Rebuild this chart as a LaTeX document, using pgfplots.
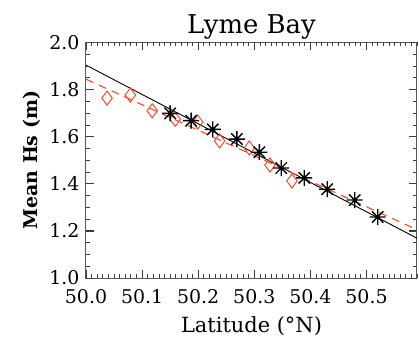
\documentclass[border=0pt]{standalone}
\usepackage{pgfplots}
\pgfplotsset{compat=1.18}
\usetikzlibrary{calc}
\usepackage{fontspec}
\setmainfont{DejaVu Serif}
\definecolor{idlred}{RGB}{245,75,45}
\pgfdeclareplotmark{star8}{%
  \pgfpathmoveto{\pgfpointpolar{0}{\pgfplotmarksize}}\pgfpathlineto{\pgfpointpolar{180}{\pgfplotmarksize}}%
  \pgfpathmoveto{\pgfpointpolar{90}{\pgfplotmarksize}}\pgfpathlineto{\pgfpointpolar{270}{\pgfplotmarksize}}%
  \pgfpathmoveto{\pgfpointpolar{45}{\pgfplotmarksize}}\pgfpathlineto{\pgfpointpolar{225}{\pgfplotmarksize}}%
  \pgfpathmoveto{\pgfpointpolar{135}{\pgfplotmarksize}}\pgfpathlineto{\pgfpointpolar{315}{\pgfplotmarksize}}%
  \pgfusepathqstroke}
\begin{document}
\begin{tikzpicture}
\path[use as bounding box] (-86bp,-63bp) rectangle (333bp,278bp);
\begin{axis}[
  scale only axis, width=331bp, height=235.5bp,
  xmin=50.0, xmax=50.59, ymin=1.0, ymax=2.0,
  clip=false,
  xtick={50.0,50.1,50.2,50.3,50.4,50.5},
  ytick={1.0,1.2,1.4,1.6,1.8,2.0},
  xticklabels={50.0,50.1,50.2,50.3,50.4,50.5},
  yticklabels={1.0,1.2,1.4,1.6,1.8,2.0},
  minor x tick num=9, minor y tick num=3,
  tick align=inside,
  major tick length=8bp, minor tick length=4bp,
  tick style={draw=black!80, line width=1bp},
  minor tick style={draw=black!80, line width=0.8bp},
  axis line style={draw=black!65, line width=1bp},
  ticklabel style={font=\fontsize{19}{21}\selectfont},
  xticklabel style={yshift=-8bp},
  yticklabel style={xshift=-3bp},
  title={Lyme Bay},
  title style={font=\fontsize{26}{30}\selectfont, yshift=-6bp},
  xlabel={Latitude (°N)},
  xlabel style={font=\fontsize{21}{24}\selectfont, yshift=-6bp},
  ylabel={Mean Hs (m)},
  ylabel style={font=\bfseries\fontsize{19}{22}\selectfont, yshift=2bp},
]
\coordinate (SW) at (rel axis cs:0,0);
\coordinate (SE) at (rel axis cs:1,0);
\coordinate (NW) at (rel axis cs:0,1);
\coordinate (NE) at (rel axis cs:1,1);
\addplot[black, line width=0.9bp] coordinates {(50.0,1.904) (50.59,1.169)};
\addplot[idlred, line width=1.1bp, dash pattern=on 8bp off 6bp] coordinates {(50.0,1.844) (50.59,1.205)};
\addplot[only marks, mark=diamond, mark size=7bp, mark options={draw=idlred, fill=none, line width=1bp}] coordinates {
(50.0375,1.764) (50.079,1.777) (50.118,1.710) (50.159,1.674) (50.199,1.662)
(50.238,1.582) (50.291,1.552) (50.328,1.480) (50.367,1.412)};
\addplot[only marks, mark=star8, mark size=8bp, mark options={draw=black, line width=1.4bp}] coordinates {
(50.150,1.699) (50.1875,1.668) (50.226,1.631) (50.269,1.590) (50.309,1.534)
(50.348,1.467) (50.389,1.425) (50.430,1.377) (50.479,1.331) (50.520,1.259)};
\end{axis}
\foreach \i in {0,...,59}{
  \pgfmathsetmacro{\L}{ifthenelse(mod(\i,10)==0,8,3.5)}
  \draw[black!75, line width=0.8bp] ($(SW)!\i/59!(SE)$) -- ++(0,\L bp);
  \draw[black!75, line width=0.8bp] ($(NW)!\i/59!(NE)$) -- ++(0,-\L bp);
}
\foreach \j in {0,...,20}{
  \pgfmathsetmacro{\L}{ifthenelse(mod(\j,4)==0,8,4)}
  \draw[black!75, line width=0.8bp] ($(SW)!\j/20!(NW)$) -- ++(\L bp,0);
  \draw[black!75, line width=0.8bp] ($(SE)!\j/20!(NE)$) -- ++(-\L bp,0);
}
\end{tikzpicture}
\end{document}
